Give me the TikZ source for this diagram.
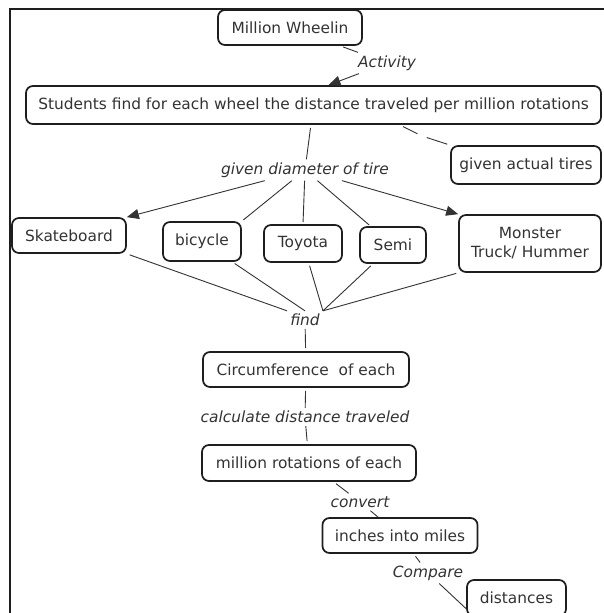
\documentclass[tikz,border=0pt]{standalone}
\usepackage{fontspec}
\setmainfont{DejaVu Sans}[ItalicFont={DejaVu Sans Oblique}]
\usetikzlibrary{arrows.meta}
\definecolor{ink}{HTML}{333333}
\definecolor{edge}{HTML}{1E1E1E}
\begin{document}
\begin{tikzpicture}[x=1pt,y=-1pt,
  concept/.style={draw=edge, line width=1.7pt, rounded corners=7pt, text=ink,
    font=\fontsize{15.4}{19}\selectfont, inner sep=0pt, align=center},
  phrase/.style={text=ink, font=\fontsize{15.4}{19}\selectfont\itshape, inner sep=3pt},
  link/.style={draw=ink, line width=0.9pt},
  tip/.style={-{Triangle[length=12pt,width=10pt]}}]
\useasboundingbox (0,0) rectangle (603,613);
\fill[white] (0,0) rectangle (603,613);
% frame
\draw[edge, line width=1.3pt] (10,614) -- (10,9) -- (604,9);
% concepts and phrases
\node[concept, minimum width=144pt, minimum height=35pt] (mw) at (290,27.5) {Million Wheelin};
\node[phrase] (act) at (387,63) {Activity};
\node[concept, minimum width=575pt, minimum height=38pt] (stu) at (313.5,105) {Students find for each wheel the distance traveled per million rotations};
\node[phrase] (gdt) at (305,170) {given diameter of tire};
\node[concept, minimum width=150pt, minimum height=38pt] (gat) at (526,165) {given actual tires};
\node[concept, minimum width=114pt, minimum height=35pt] (sk) at (69,235.5) {Skateboard};
\node[concept, minimum width=78pt, minimum height=39pt] (bi) at (202,241.5) {bicycle};
\node[concept, minimum width=78pt, minimum height=37pt] (to) at (303,243.5) {Toyota};
\node[concept, minimum width=66pt, minimum height=36pt] (se) at (393,245) {Semi};
\node[concept, minimum width=142pt, minimum height=57pt] (mo) at (530,243.5) {Monster\\Truck/ Hummer};
\node[phrase] (find) at (305,320) {find};
\node[concept, minimum width=206pt, minimum height=35pt] (ci) at (306,369.5) {Circumference\ \ of each};
\node[phrase] (cdt) at (305,417) {calculate distance traveled};
\node[concept, minimum width=214pt, minimum height=36pt] (mr) at (309,463) {million rotations of each};
\node[phrase] (conv) at (360,502) {convert};
\node[concept, minimum width=155pt, minimum height=35pt] (im) at (400,535.5) {inches into miles};
\node[phrase] (cmp) at (428,573) {Compare};
\node[concept, minimum width=99pt, minimum height=36pt] (di) at (516.5,598) {distances};
\coordinate (gap) at (422,136);
% links
\draw[link, shorten <=3pt] (mw) -- (act);
\draw[link, tip] (act) -- (stu.53);
\draw[link, shorten <=3pt] (stu) -- (gdt);
\draw[link, shorten <=4pt, shorten >=5pt] (stu.-13.4) -- (gap);
\draw[link, shorten <=5pt, shorten >=3pt] (gap) -- (gat.north west);
\draw[link, tip] (gdt) -- (sk.north east);
\draw[link, shorten >=2pt] (gdt) -- (bi.north east);
\draw[link, shorten >=2pt] (gdt) -- (to.north);
\draw[link, shorten >=2pt] (gdt) -- (se.140);
\draw[link, tip] (gdt) -- (mo.north west);
\draw[link, shorten <=3pt] (sk.south east) -- (find.north west);
\draw[link, shorten <=3pt] (bi) -- (find.north);
\draw[link, shorten <=3pt] (to) -- (find.north east);
\draw[link, shorten <=3pt] (se) -- (find.north east);
\draw[link, shorten <=2pt] (mo.south west) -- (find.north east);
\draw[link, shorten >=3pt] (find) -- (ci);
\draw[link, shorten <=3pt] (ci) -- (cdt);
\draw[link, shorten >=3pt] (cdt) -- (mr);
\draw[link, shorten <=3pt] (mr) -- (conv);
\draw[link] (conv) -- (im);
\draw[link, shorten <=3pt] (im) -- (cmp);
\draw[link] (cmp) -- (di.192);
\end{tikzpicture}
\end{document}
